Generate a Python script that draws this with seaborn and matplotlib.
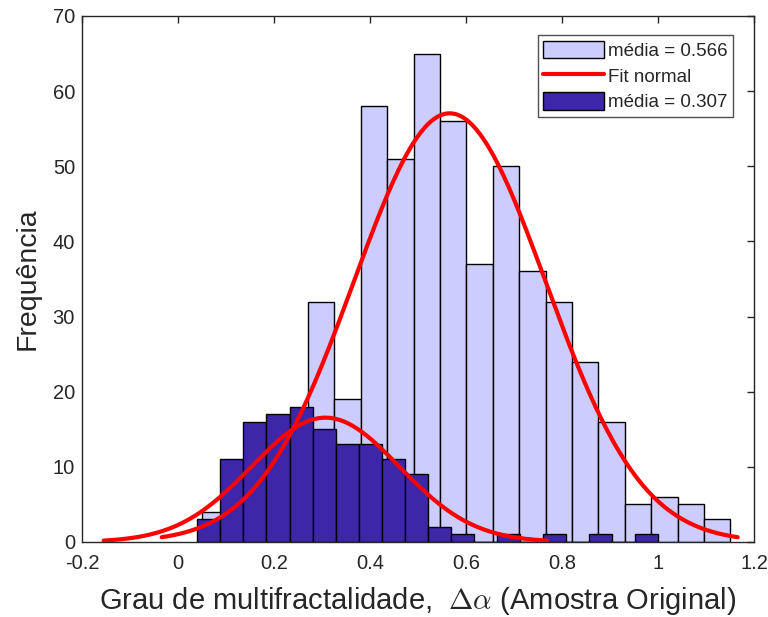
import numpy as np
import pandas as pd
import matplotlib
matplotlib.use('Agg')
import matplotlib.pyplot as plt
from matplotlib.patches import Patch
from matplotlib.lines import Line2D
from matplotlib.ticker import FormatStrFormatter
import seaborn as sns

# light histogram (original sample), 20 bins
light_start = 0.0506
light_width = 0.055
light_counts = [4, 4, 7, 10, 32, 19, 58, 51, 65, 56,
                37, 50, 36, 32, 24, 16, 5, 6, 5, 3]
light_mean = 0.566
light_std = 0.2

# dark histogram, 20 bins
dark_start = 0.0402
dark_width = 0.04802
dark_counts = [3, 11, 16, 17, 18, 15, 13, 13, 11, 9,
               2, 1, 0, 1, 0, 1, 0, 1, 0, 1]
dark_mean = 0.307
dark_std = 0.154

light_color = '#CCCCFF'
dark_color = '#3E26A8'

sns.set_style('white')
plt.rcParams['font.family'] = ['Liberation Sans', 'DejaVu Sans']
plt.rcParams['mathtext.fontset'] = 'cm'

fig = plt.figure(figsize=(7.68, 6.17), dpi=100)
ax = fig.add_axes([0.1068, 0.1216, 0.875, 0.8525])

def draw_hist(counts, start, width, color):
    n = len(counts)
    edges = start + width * np.arange(n + 1)
    df = pd.DataFrame({'c': (edges[:-1] + edges[1:]) / 2, 'w': counts})
    sns.histplot(data=df, x='c', weights='w', bins=edges.tolist(), ax=ax,
                 color=color, alpha=1, edgecolor='black', linewidth=1)

def draw_fit(counts, width, mean, std):
    x = np.linspace(mean - 3 * std, mean + 3 * std, 200)
    y = sum(counts) * width / (std * np.sqrt(2 * np.pi)) * np.exp(-0.5 * ((x - mean) / std) ** 2)
    ax.plot(x, y, color='red', linewidth=3, zorder=5)

draw_hist(light_counts, light_start, light_width, light_color)
draw_hist(dark_counts, dark_start, dark_width, dark_color)
draw_fit(light_counts, light_width, light_mean, light_std)
draw_fit(dark_counts, dark_width, dark_mean, dark_std)

ax.set_xlim(-0.2, 1.2)
ax.set_ylim(0, 70)
ax.set_xticks(np.arange(-0.2, 1.21, 0.2))
ax.set_yticks(np.arange(0, 71, 10))
ax.xaxis.set_major_formatter(FormatStrFormatter('%g'))
ax.tick_params(direction='in', length=5, width=1, top=True, right=True,
               labelsize=14.5, colors='#262626')
ax.tick_params(axis='x', pad=9)
ax.tick_params(axis='y', pad=5)
for s in ax.spines.values():
    s.set_color('#262626')
    s.set_linewidth(1)

ax.set_xlabel(r'Grau de multifractalidade,  $\Delta\alpha$ (Amostra Original)',
              fontsize=21, color='#262626', labelpad=8)
ax.set_ylabel('Frequência', fontsize=20.5, color='#262626', labelpad=9)

handles = [Patch(facecolor=light_color, edgecolor='black', linewidth=1),
           Line2D([0], [0], color='red', linewidth=3),
           Patch(facecolor=dark_color, edgecolor='black', linewidth=1)]
labels = ['média = ' + str(light_mean), 'Fit normal', 'média = ' + str(dark_mean)]
leg = ax.legend(handles, labels, loc='upper right', bbox_to_anchor=(0.969, 0.964),
                borderaxespad=0, fontsize=13.5, frameon=True, fancybox=False,
                handlelength=3.25, handleheight=1.07, handletextpad=0.2,
                borderpad=0.3, labelspacing=0.35)
leg.get_frame().set_edgecolor('#262626')
leg.get_frame().set_linewidth(1)

fig.savefig('out.png', dpi=100)
